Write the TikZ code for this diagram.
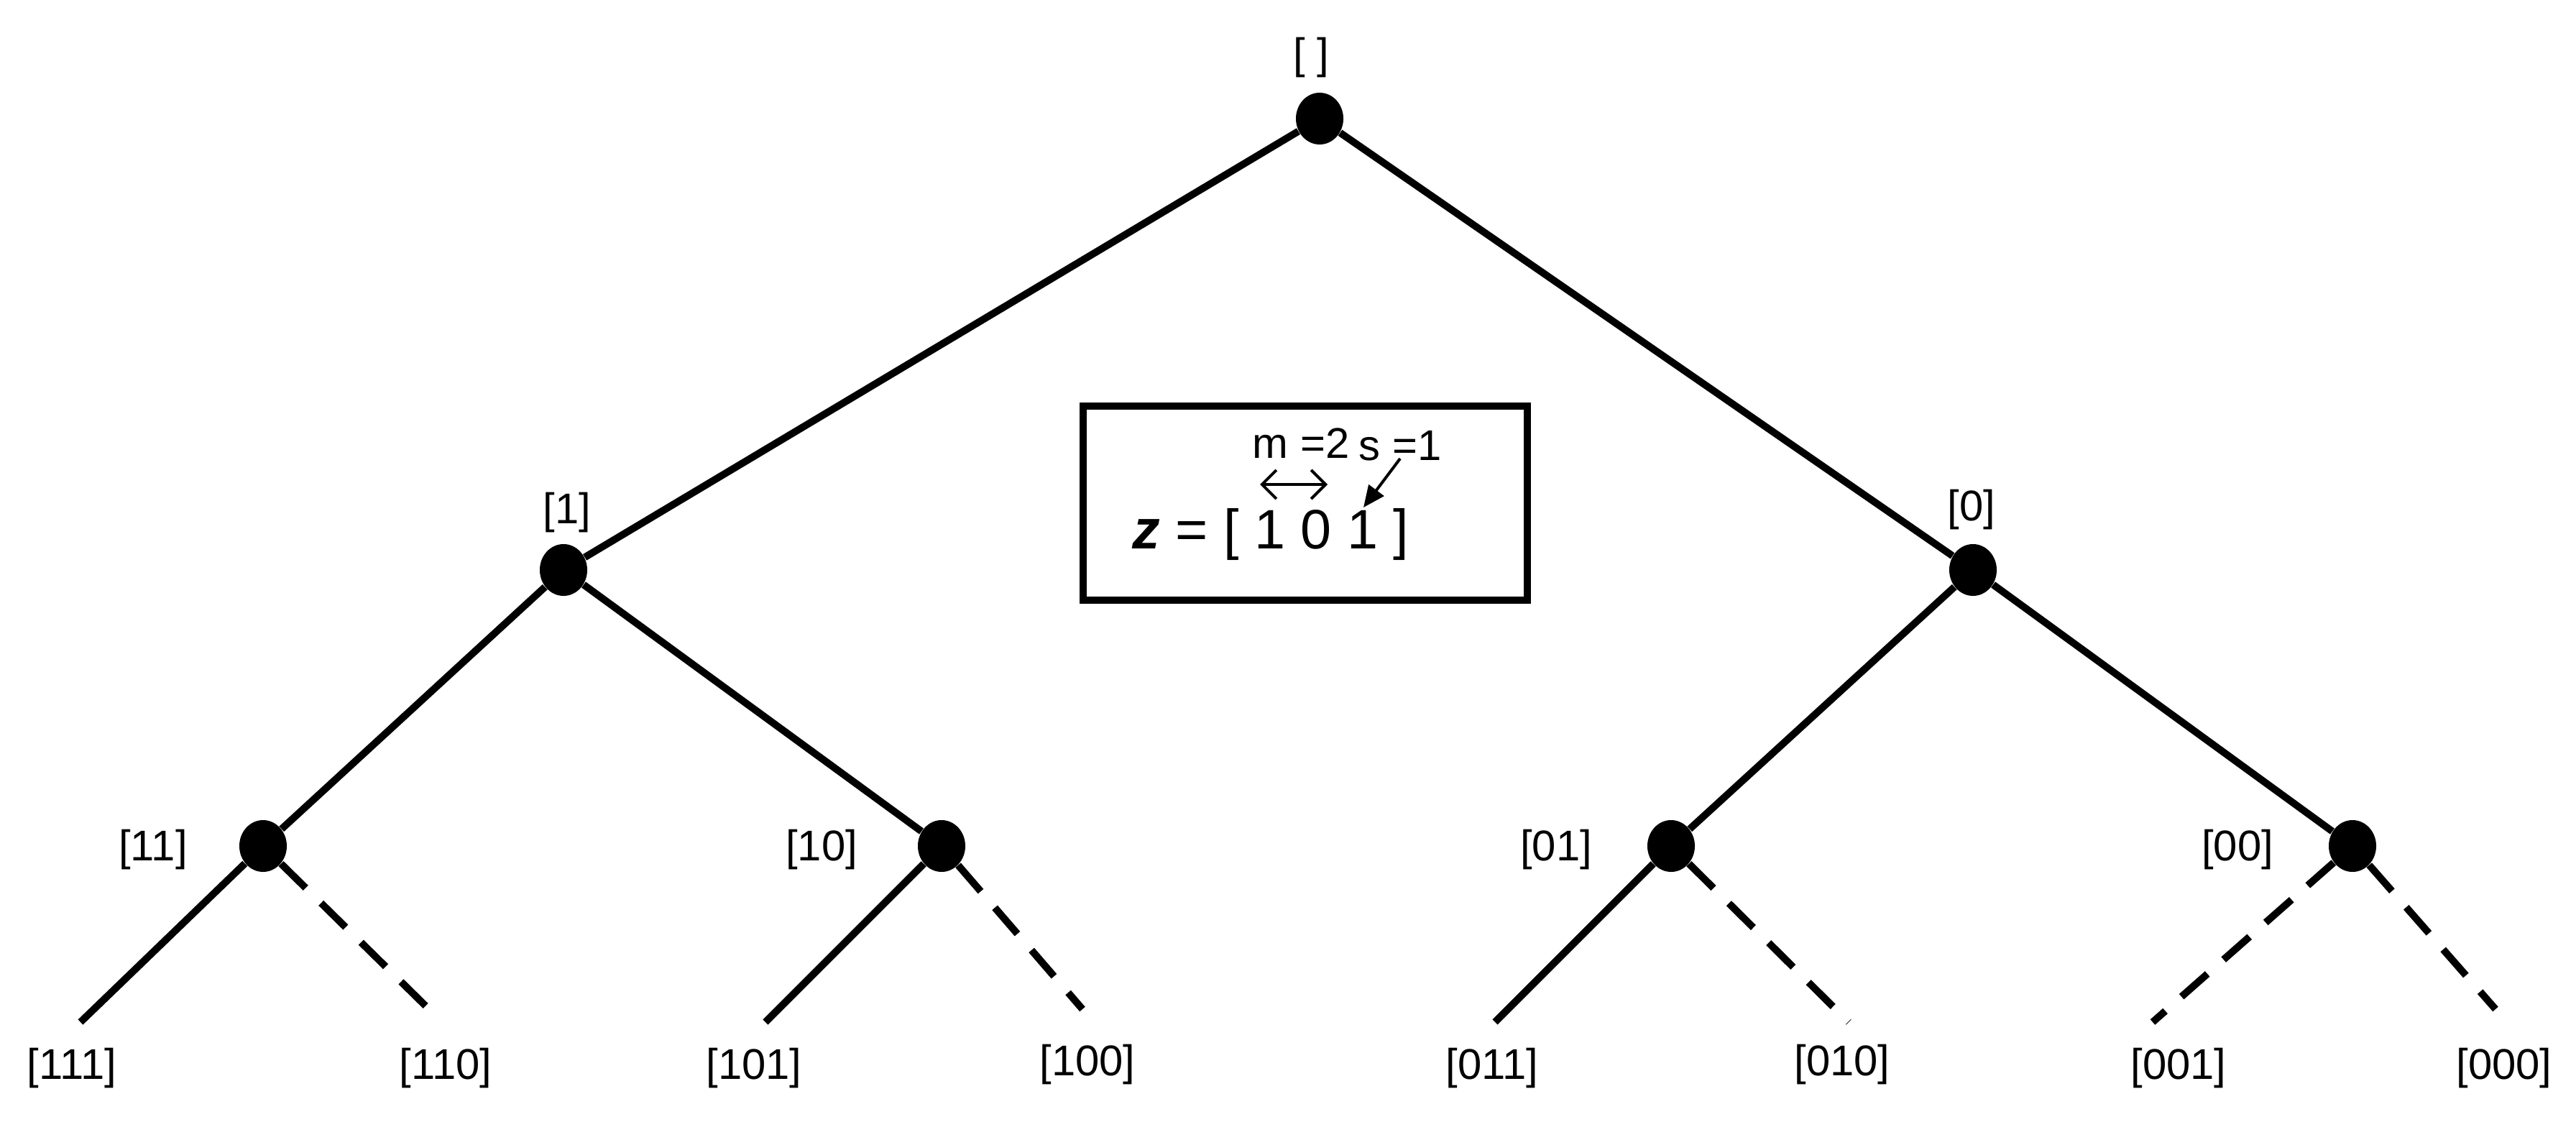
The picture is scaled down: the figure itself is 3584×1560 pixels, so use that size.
\documentclass[tikz,border=0pt]{standalone}
\usepackage{fontspec}
\setmainfont{Liberation Sans}
\usetikzlibrary{arrows.meta,shapes.geometric}
\begin{document}
\begin{tikzpicture}[x=0.01cm,y=-0.01cm,
  dotn/.style={ellipse,fill=black,minimum width=0.66cm,minimum height=0.72cm,inner sep=0},
  lbl/.style={font=\fontsize{17}{19}\selectfont,inner sep=0},
  edge/.style={line width=0.1cm},
  dedge/.style={line width=0.1cm,dash pattern=on 0.48cm off 0.3cm}]
\useasboundingbox (0,0) rectangle (3584,1560);
\node[dotn] (r) at (1836,165) {};
\node[dotn] (n1) at (784,793) {};
\node[dotn] (n0) at (2745,793) {};
\node[dotn] (n11) at (366,1177) {};
\node[dotn] (n10) at (1310,1177) {};
\node[dotn] (n01) at (2325,1177) {};
\node[dotn] (n00) at (3273,1177) {};
\coordinate (l111) at (112,1422);
\coordinate (l110) at (610,1417);
\coordinate (l101) at (1065,1422);
\coordinate (l100) at (1506,1404);
\coordinate (l011) at (2080,1422);
\coordinate (l010) at (2572,1422);
\coordinate (l001) at (2995,1422);
\coordinate (l000) at (3472,1404);
\draw[edge] (r) -- (n1); \draw[edge] (r) -- (n0);
\draw[edge] (n1) -- (n11); \draw[edge] (n1) -- (n10);
\draw[edge] (n0) -- (n01); \draw[edge] (n0) -- (n00);
\draw[edge] (n11) -- (l111); \draw[dedge] (n11) -- (l110);
\draw[edge] (n10) -- (l101); \draw[dedge] (n10) -- (l100);
\draw[edge] (n01) -- (l011); \draw[dedge] (n01) -- (l010);
\draw[dedge] (n00) -- (l001); \draw[dedge] (n00) -- (l000);
\node[lbl] (t) at (1824,80) {[ ]};
\node[lbl] (t1) at (789,713) {[1]};
\node[lbl] (t0) at (2743,709) {[0]};
\node[lbl] (t11) at (213,1182) {[11]};
\node[lbl] (t10) at (1143,1182) {[10]};
\node[lbl] (t01) at (2165,1182) {[01]};
\node[lbl] (t00) at (3113,1182) {[00]};
\node[lbl] at (100,1486) {[111]};
\node[lbl] at (620,1486) {[110]};
\node[lbl] at (1049,1486) {[101]};
\node[lbl] at (1513,1481) {[100]};
\node[lbl] at (2076,1486) {[011]};
\node[lbl] at (2563,1481) {[010]};
\node[lbl] at (3031,1486) {[001]};
\node[lbl] at (3484,1486) {[000]};
\node[draw,line width=0.1cm,minimum width=6.18cm,minimum height=2.7cm,inner sep=0] (box) at (1816,700) {};
\node[inner sep=0,font=\fontsize{22}{24}\selectfont] (z) at (1768,743) {\textbf{\textit{z}} = [ 1 0 1 ]};
\node[lbl] (m) at (1810,617) {m =2};
\node[lbl] (s) at (1948,620) {s =1};
\coordinate (da) at (1753,674); \coordinate (db) at (1847,674);
\draw[line width=0.04cm,{Straight Barb[length=0.2cm,width=0.4cm]}-{Straight Barb[length=0.2cm,width=0.4cm]}] (da) -- (db);
\coordinate (sa) at (1948,638); \coordinate (sb) at (1897,706);
\draw[line width=0.04cm,-{Triangle[length=0.3cm,width=0.26cm]}] (sa) -- (sb);
\end{tikzpicture}
\end{document}
